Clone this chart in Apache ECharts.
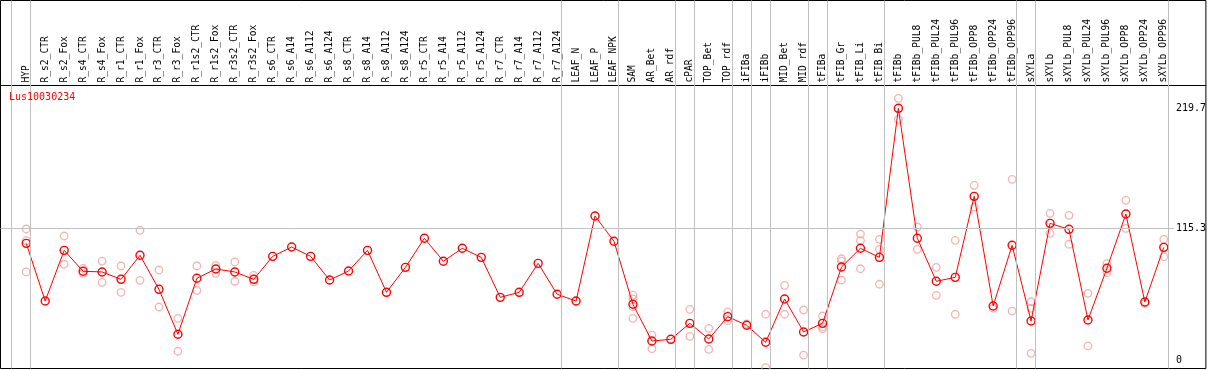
<!doctype html>
<html lang="en">
  <head>
    <meta charset="UTF-8" />
    <title>Lus10030234</title>
    <script src="https://cdn.jsdelivr.net/npm/echarts@6/dist/echarts.min.js"></script>
    <style>
      html, body { margin: 0; padding: 0; background: #fff; }
    </style>
  </head>
  <body>
    <div id="chart" style="width: 1209px; height: 370px"></div>
    <script>
      const categories = [
        'HYP', 'R_s2_CTR', 'R_s2_Fox', 'R_s4_CTR', 'R_s4_Fox', 'R_r1_CTR', 'R_r1_Fox', 'R_r3_CTR', 'R_r3_Fox',
        'R_r1s2_CTR', 'R_r1s2_Fox', 'R_r3s2_CTR', 'R_r3s2_Fox', 'R_s6_CTR', 'R_s6_A14', 'R_s6_A112', 'R_s6_A124',
        'R_s8_CTR', 'R_s8_A14', 'R_s8_A112', 'R_s8_A124', 'R_r5_CTR', 'R_r5_A14', 'R_r5_A112', 'R_r5_A124',
        'R_r7_CTR', 'R_r7_A14', 'R_r7_A112', 'R_r7_A124', 'LEAF_N', 'LEAF_P', 'LEAF_NPK', 'SAM', 'AR_Bet', 'AR_rdf',
        'cPAR', 'TOP_Bet', 'TOP_rdf', 'iFIBa', 'iFIBb', 'MID_Bet', 'MID_rdf', 'tFIBa', 'tFIB_Gr', 'tFIB_Li', 'tFIB_Bi',
        'tFIBb', 'tFIBb_PUL8', 'tFIBb_PUL24', 'tFIBb_PUL96', 'tFIBb_OPP8', 'tFIBb_OPP24', 'tFIBb_OPP96',
        'sXYLa', 'sXYLb', 'sXYLb_PUL8', 'sXYLb_PUL24', 'sXYLb_PUL96', 'sXYLb_OPP8', 'sXYLb_OPP24', 'sXYLb_OPP96',
      ];

      // mean expression per sample (red line)
      const meanValues = [
        102.2, 52.0, 96.1, 77.9, 77.3, 70.9, 91.8, 62.2, 23.1, 71.8, 79.9, 77.3, 70.9, 90.9, 99.0, 90.9, 70.3,
        78.1, 96.1, 59.6, 81.3, 106.6, 86.6, 97.9, 90.0, 55.2, 59.6, 84.8, 57.9, 52.0, 126.0, 104.0, 49.2, 17.2,
        18.7, 32.6, 19.0, 38.4, 30.9, 16.1, 53.8, 25.1, 32.6, 81.6, 97.9, 90.0, 219.7, 106.6, 69.2, 72.6, 143.1,
        47.7, 100.5, 34.6, 119.6, 114.4, 35.5, 80.5, 127.7, 51.2, 98.7,
      ];

      // replicate values per sample (pink circles)
      const replicates = [
        [114.7, 104.5, 77.3], [], [108.6, 84.0], [80.5, 76.1], [86.8, 68.3], [82.5, 59.6], [113.5, 70.0],
        [79.0, 46.8], [37.0, 8.3], [82.5, 61.3], [83.1, 76.1], [86.0, 69.2], [74.4, 68.6],
        [], [], [], [], [], [], [], [], [], [], [], [], [], [], [], [], [], [], [],
        [57.2, 53.8, 47.1, 37.0], [22.4, 10.5], [], [44.8, 21.3], [28.3, 10.0], [42.5, 34.9], [32.0],
        [40.5, -6.0], [65.7, 40.5], [44.2, 5.0], [39.0, 29.7, 27.9], [88.8, 86.8, 70.3], [110.3, 104.5, 80.1],
        [105.7, 97.0, 66.6], [228.4, 210.1], [116.4, 97.0], [81.3, 57.0], [104.8, 40.5], [152.7, 133.8], [45.9],
        [157.9, 43.3], [51.4, 45.7, 6.5], [128.3, 110.9], [126.6, 101.4], [58.7, 12.9], [84.5, 76.7],
        [139.6, 115.3], [50.0], [105.7, 90.6],
      ];

      // first sample index of each group (a separator line sits before it)
      const groupStarts = [0, 1, 29, 32, 35, 36, 38, 39, 40, 42, 43, 46, 53, 54, 61];
      const yTicks = [0, 115.3, 219.7];
      const gridValue = 115.3;

      const X_MIN = -1.358;
      const X_MAX = 62.221;
      const Y_MIN = -6.7;
      const Y_MAX = 313.5;
      const MONO = 'DejaVu Sans Mono';

      const lineData = meanValues.map((v, i) => [i, v]);
      const repData = [];
      replicates.forEach((list, i) => list.forEach((v) => repData.push([i, v])));

      const chart = echarts.init(document.getElementById('chart'), null, { renderer: 'canvas' });
      chart.setOption({
        animation: false,
        title: {
          text: 'Lus10030234',
          left: 9,
          top: 92,
          padding: 0,
          textStyle: { color: '#ff0000', fontSize: 10, fontFamily: MONO, fontWeight: 'normal' },
        },
        grid: {
          left: 0.5,
          top: 0.5,
          width: 1208,
          height: 368,
          show: true,
          borderColor: '#000',
          borderWidth: 1,
          backgroundColor: '#fff',
        },
        xAxis: [
          { type: 'value', min: X_MIN, max: X_MAX, show: false },
          {
            type: 'value',
            min: X_MIN,
            max: X_MAX,
            position: 'top',
            offset: -85,
            axisLine: { show: true, lineStyle: { color: '#000', width: 1 } },
            axisTick: { show: false },
            splitLine: { show: false },
            axisLabel: {
              customValues: categories.map((c, i) => i),
              formatter: (v) => categories[Math.round(v)],
              rotate: -90,
              margin: 3,
              fontSize: 9.6,
              fontFamily: MONO,
              color: '#000',
            },
          },
        ],
        yAxis: {
          type: 'value',
          min: Y_MIN,
          max: Y_MAX,
          position: 'right',
          offset: -38,
          axisLine: { show: false },
          axisTick: { show: false },
          splitLine: { show: false },
          axisLabel: {
            customValues: yTicks,
            formatter: (v) => String(v),
            margin: 8,
            fontSize: 10,
            fontFamily: MONO,
            color: '#000',
          },
        },
        series: [
          {
            type: 'line',
            data: [],
            silent: true,
            markLine: {
              silent: true,
              symbol: 'none',
              label: { show: false },
              lineStyle: { color: '#c0c0c0', width: 1, type: 'solid' },
              data: groupStarts
                .map((s) => ({ xAxis: s - 0.77 }))
                .concat([[{ coord: [X_MIN, gridValue] }, { coord: [60.55, gridValue] }]]),
            },
          },
          {
            type: 'scatter',
            data: repData,
            symbol: 'circle',
            symbolSize: 7.5,
            itemStyle: { color: 'rgba(0,0,0,0)', borderColor: '#f0a0a0', borderWidth: 1.3 },
            z: 3,
          },
          {
            type: 'line',
            data: lineData,
            symbol: 'circle',
            symbolSize: 8,
            lineStyle: { color: '#ff0000', width: 1 },
            itemStyle: { color: 'rgba(0,0,0,0)', borderColor: '#ff0000', borderWidth: 1.4 },
            z: 4,
          },
        ],
      });
    </script>
  </body>
</html>
